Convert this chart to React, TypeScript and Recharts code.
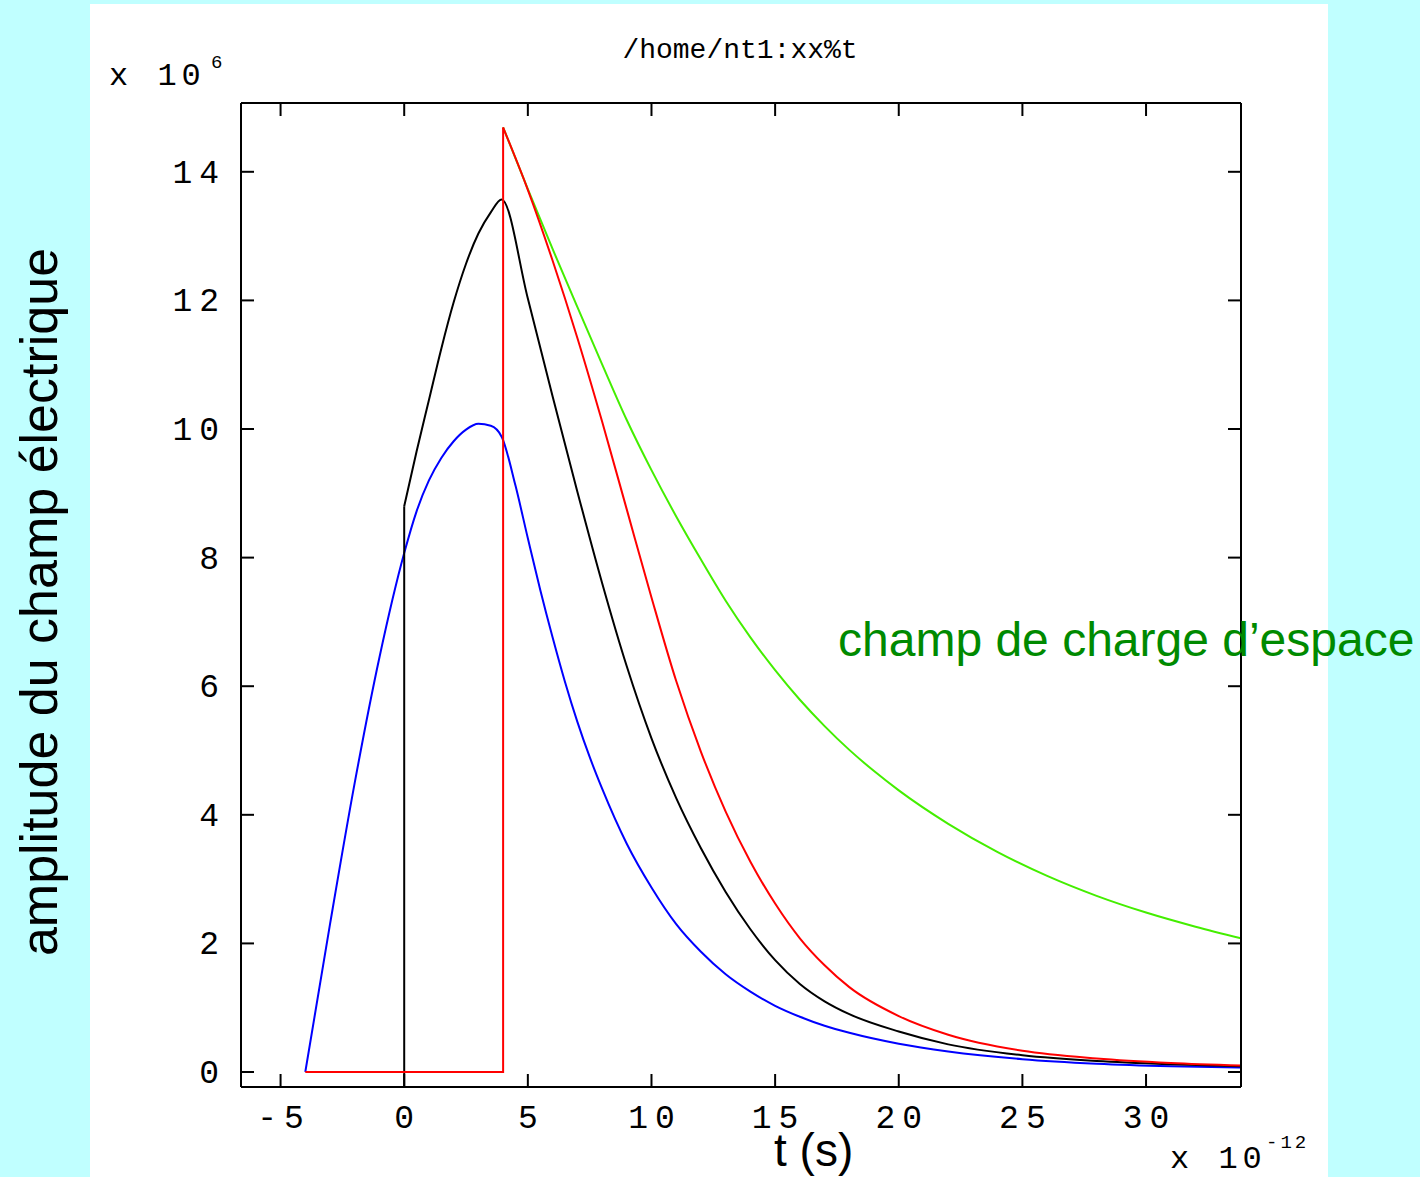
import React from 'react';
import { LineChart, Line, XAxis, YAxis } from 'recharts';

// ---- axis setup (values in units of 1e-12 s and 1e6) ----
const X_TICKS = [-5, 0, 5, 10, 15, 20, 25, 30];
const Y_TICKS = [0, 2, 4, 6, 8, 10, 12, 14];
const X_DOMAIN: [number, number] = [-6.6, 33.84];
const Y_DOMAIN: [number, number] = [-0.233, 15.07];

// ---- series ----
const BLUE_T = [-4, -3, -2, -1, 0, 0.5, 1, 1.5, 2, 2.5, 3, 3.5, 3.94, 4.5, 5, 5.5, 6, 6.5, 7, 7.5, 8, 9, 10, 11, 12, 13, 14, 15, 16, 17, 18, 20, 22, 25, 28, 31, 33.84];
const BLUE_V = [0, 2.3, 4.5, 6.45, 8.07, 8.72, 9.2, 9.55, 9.81, 9.99, 10.08, 10.05, 9.88, 9.12, 8.3, 7.5, 6.76, 6.07, 5.45, 4.9, 4.41, 3.55, 2.87, 2.3, 1.87, 1.52, 1.25, 1.03, 0.86, 0.72, 0.61, 0.44, 0.32, 0.2, 0.13, 0.09, 0.07];

// black: vertical jump at t = 0, then smooth pulse
const BLACK_JUMP_T = [0, 0];
const BLACK_JUMP_V = [-0.23, 8.8];
const BLACK_T = [0, 0.5, 1, 1.5, 2, 2.5, 3, 3.5, 3.94, 5, 6, 7, 8, 9, 10, 11, 12, 13, 14, 15, 16, 17, 18, 20, 22, 25, 28, 31, 33.84];
const BLACK_V = [8.8, 9.65, 10.45, 11.25, 11.97, 12.57, 13.04, 13.37, 13.57, 12.03, 10.51, 9.03, 7.61, 6.31, 5.19, 4.26, 3.48, 2.8, 2.22, 1.74, 1.37, 1.1, 0.9, 0.63, 0.43, 0.26, 0.17, 0.12, 0.09];

// red: rectangular step, then decay
const RED_STEP_T = [-4, 4, 4];
const RED_STEP_V = [0, 0, 14.69];
const RED_T = [4, 5, 6, 7, 8, 9, 10, 11, 12, 13, 14, 15, 16, 17, 18, 20, 22, 25, 28, 31, 33.84];
const RED_V = [14.69, 13.72, 12.62, 11.42, 10.12, 8.75, 7.38, 6.08, 4.98, 4.05, 3.27, 2.62, 2.08, 1.66, 1.32, 0.87, 0.58, 0.33, 0.21, 0.14, 0.1];

const GREEN_T = [4, 5, 6, 7, 8, 9, 10, 11, 12, 13, 14, 15, 16, 17, 18, 19, 20, 22, 24, 26, 28, 30, 32, 33.84];
const GREEN_V = [14.69, 13.73, 12.8, 11.9, 11.01, 10.14, 9.36, 8.64, 7.97, 7.33, 6.76, 6.25, 5.79, 5.38, 5.01, 4.68, 4.38, 3.86, 3.42, 3.05, 2.74, 2.48, 2.26, 2.08];

const toPoints = (ts: number[], vs: number[]) => ts.map((t, i) => ({ t, v: vs[i] }));
const BLUE = toPoints(BLUE_T, BLUE_V);
const BLACK_JUMP = toPoints(BLACK_JUMP_T, BLACK_JUMP_V);
const BLACK = toPoints(BLACK_T, BLACK_V);
const RED_STEP = toPoints(RED_STEP_T, RED_STEP_V);
const RED = toPoints(RED_T, RED_V);
const GREEN = toPoints(GREEN_T, GREEN_V);

// ---- layout / style constants ----
const W = 1420;
const H = 1177;
const PLOT_LEFT = 241;
const PLOT_TOP = 103;
const PLOT_RIGHT = 1241;
const PLOT_BOTTOM = 1087;
const X_AXIS_H = 50;
const Y_AXIS_W = 60;
const TICK_LEN = 13;
const MONO = '"Liberation Mono", "DejaVu Sans Mono", monospace';
const SANS = '"Liberation Sans", Arial, sans-serif';
const TICK_FS = 33;
const TICK_LS = 7;

const XTick = (props: any) => {
  const { x, payload } = props;
  return (
    <g>
      <line x1={x} x2={x} y1={PLOT_BOTTOM} y2={PLOT_BOTTOM - TICK_LEN} stroke="#000" strokeWidth={2} />
      <line x1={x} x2={x} y1={PLOT_TOP} y2={PLOT_TOP + TICK_LEN} stroke="#000" strokeWidth={2} />
      <text
        x={x + TICK_LS / 2}
        y={PLOT_BOTTOM + 41}
        textAnchor="middle"
        fontFamily={MONO}
        fontSize={TICK_FS}
        letterSpacing={TICK_LS}
        fill="#000"
      >
        {payload.value}
      </text>
    </g>
  );
};

const YTick = (props: any) => {
  const { y, payload } = props;
  return (
    <g>
      <line x1={PLOT_LEFT} x2={PLOT_LEFT + TICK_LEN} y1={y} y2={y} stroke="#000" strokeWidth={2} />
      <line x1={PLOT_RIGHT} x2={PLOT_RIGHT - TICK_LEN} y1={y} y2={y} stroke="#000" strokeWidth={2} />
      <text
        x={PLOT_LEFT - 22 + TICK_LS}
        y={y + 11}
        textAnchor="end"
        fontFamily={MONO}
        fontSize={TICK_FS}
        letterSpacing={TICK_LS}
        fill="#000"
      >
        {payload.value}
      </text>
    </g>
  );
};

const lineCommon = { dataKey: 'v', strokeWidth: 2, dot: false, isAnimationActive: false } as const;

export default function App() {
  return (
    <div style={{ position: 'absolute', left: 0, top: 0, width: W, height: H, background: '#c0ffff', overflow: 'hidden' }}>
      <div style={{ position: 'absolute', left: 90, top: 4, width: 1238, height: H - 4, background: '#ffffff' }} />
      <div style={{ position: 'absolute', left: 0, top: 0 }}>
        <LineChart
          width={W}
          height={H}
          margin={{
            top: PLOT_TOP - 1,
            left: PLOT_LEFT - Y_AXIS_W,
            right: W - PLOT_RIGHT - 1,
            bottom: H - PLOT_BOTTOM - X_AXIS_H,
          }}
        >
          <XAxis
            dataKey="t"
            type="number"
            domain={X_DOMAIN}
            ticks={X_TICKS}
            interval={0}
            allowDataOverflow
            height={X_AXIS_H}
            tickSize={0}
            tickLine={false}
            axisLine={{ stroke: '#000', strokeWidth: 2 }}
            tick={(p: any) => <XTick {...p} />}
          />
          <XAxis
            xAxisId="top"
            orientation="top"
            dataKey="t"
            type="number"
            domain={X_DOMAIN}
            allowDataOverflow
            height={1}
            tick={false}
            tickLine={false}
            axisLine={{ stroke: '#000', strokeWidth: 2 }}
          />
          <YAxis
            type="number"
            domain={Y_DOMAIN}
            ticks={Y_TICKS}
            interval={0}
            allowDataOverflow
            width={Y_AXIS_W}
            tickSize={0}
            tickLine={false}
            axisLine={{ stroke: '#000', strokeWidth: 2 }}
            tick={(p: any) => <YTick {...p} />}
          />
          <YAxis
            yAxisId="right"
            orientation="right"
            type="number"
            domain={Y_DOMAIN}
            allowDataOverflow
            width={1}
            tick={false}
            tickLine={false}
            axisLine={{ stroke: '#000', strokeWidth: 2 }}
          />
          <Line {...lineCommon} data={GREEN} type="monotone" stroke="#44ee00" />
          <Line {...lineCommon} data={BLUE} type="monotone" stroke="#0000ff" />
          <Line {...lineCommon} data={BLACK_JUMP} type="linear" stroke="#000000" />
          <Line {...lineCommon} data={BLACK} type="monotone" stroke="#000000" />
          <Line {...lineCommon} data={RED_STEP} type="linear" stroke="#ff0000" />
          <Line {...lineCommon} data={RED} type="monotone" stroke="#ff0000" />
        </LineChart>
      </div>
      <svg width={W} height={H} style={{ position: 'absolute', left: 0, top: 0, pointerEvents: 'none' }}>
        <text x={740} y={58} textAnchor="middle" fontFamily={MONO} fontSize={28} fill="#000">/home/nt1:xx%t</text>
        <text x={109} y={85} fontFamily={MONO} fontSize={32} letterSpacing={5} fill="#000">x 10</text>
        <text x={211} y={68} fontFamily={MONO} fontSize={19} fill="#000">6</text>
        <text x={1170} y={1168} fontFamily={MONO} fontSize={32} letterSpacing={5} fill="#000">x 10</text>
        <text x={1266} y={1148} fontFamily={MONO} fontSize={19} letterSpacing={3} fill="#000">-12</text>
        <text x={774} y={1166} fontFamily={SANS} fontSize={46} fill="#000">t (s)</text>
        <text x={838} y={656} fontFamily={SANS} fontSize={48} fill="#008a00">champ de charge d’espace</text>
        <text
          x={57}
          y={602}
          transform="rotate(-90 57 602)"
          textAnchor="middle"
          fontFamily={SANS}
          fontSize={52}
          fill="#000"
        >
          amplitude du champ électrique
        </text>
      </svg>
    </div>
  );
}
